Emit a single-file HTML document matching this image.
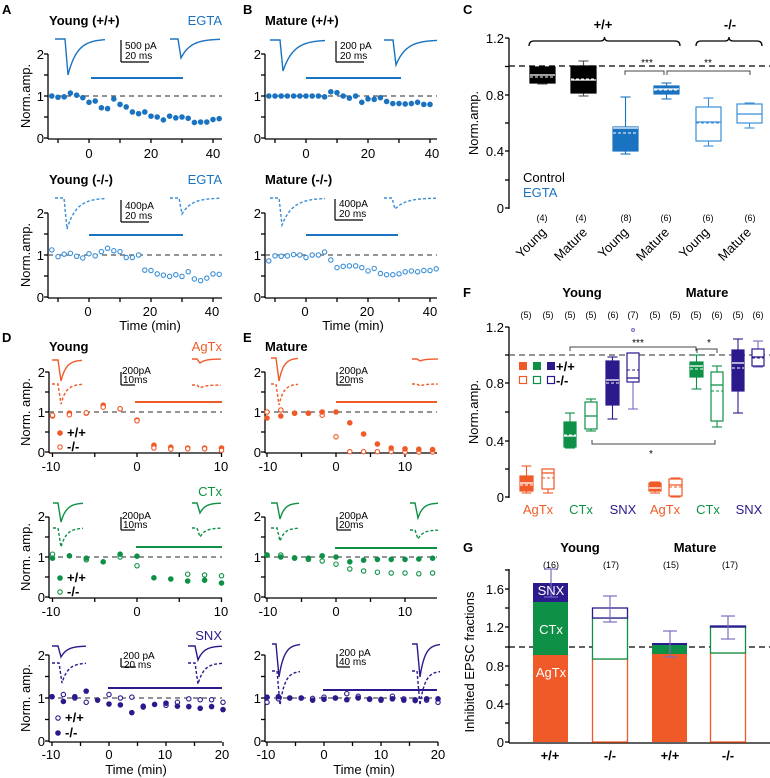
<!DOCTYPE html>
<html><head><meta charset="utf-8"><style>
body{margin:0;background:#fff}
svg{display:block;font-family:"Liberation Sans",Arial,sans-serif}
.b{font-weight:bold}
.t{font-size:13px}
.s{font-size:10px}
.n{font-size:9px}
</style></head><body>
<svg id="s" width="770" height="778" viewBox="0 0 770 778" xmlns="http://www.w3.org/2000/svg">
<g class="b" font-size="13">
<text x="2" y="14">A</text><text x="243" y="14">B</text><text x="463" y="14">C</text>
<text x="2" y="342">D</text><text x="243" y="342">E</text><text x="463" y="297">F</text><text x="463" y="552">G</text>
</g>
<g class="t">
<text x="49" y="25" class="b">Young (+/+)</text><text x="222" y="25" text-anchor="end" fill="#1a73c0">EGTA</text>
<text x="265" y="25" class="b">Mature (+/+)</text>
<text x="49" y="184" class="b">Young (-/-)</text><text x="222" y="184" text-anchor="end" fill="#1a73c0">EGTA</text>
<text x="265" y="184" class="b">Mature (-/-)</text>
<text x="49" y="351" class="b">Young</text><text x="222" y="351" text-anchor="end" fill="#f05a28">AgTx</text>
<text x="265" y="351" class="b">Mature</text>
<text x="222" y="496" text-anchor="end" fill="#0e9146">CTx</text>
<text x="222" y="640" text-anchor="end" fill="#2b1a8c">SNX</text>
</g>
<!-- axis tick labels -->
<g class="t" text-anchor="end">
<text x="44" y="59">2</text><text x="44" y="101">1</text><text x="44" y="143">0</text>
<text x="44" y="218">2</text><text x="44" y="260">1</text><text x="44" y="302">0</text>
<text x="261" y="59">2</text><text x="261" y="101">1</text><text x="261" y="143">0</text>
<text x="261" y="218">2</text><text x="261" y="260">1</text><text x="261" y="302">0</text>
<text x="45" y="377">2</text><text x="45" y="417">1</text><text x="45" y="457">0</text>
<text x="45" y="521">2</text><text x="45" y="562">1</text><text x="45" y="602">0</text>
<text x="45" y="660">2</text><text x="45" y="703">1</text><text x="45" y="746">0</text>
<text x="261" y="377">2</text><text x="261" y="417">1</text><text x="261" y="457">0</text>
<text x="261" y="521">2</text><text x="261" y="562">1</text><text x="261" y="602">0</text>
<text x="261" y="660">2</text><text x="261" y="703">1</text><text x="261" y="746">0</text>
<text x="504" y="43">1.2</text><text x="504" y="100">0.8</text><text x="504" y="156">0.4</text><text x="504" y="213">0</text>
<text x="504" y="332">1.2</text><text x="504" y="388">0.8</text><text x="504" y="446">0.4</text><text x="504" y="502">0</text>
<text x="504" y="594">1.6</text><text x="504" y="632">1.2</text><text x="504" y="671">0.8</text><text x="504" y="709">0.4</text><text x="504" y="747">0</text>
</g>
<g class="t" text-anchor="middle">
<text x="89" y="158">0</text><text x="151" y="158">20</text><text x="213" y="158">40</text>
<text x="306" y="158">0</text><text x="368" y="158">20</text><text x="432" y="158">40</text>
<text x="88" y="316">0</text><text x="150" y="316">20</text><text x="212" y="316">40</text>
<text x="305" y="316">0</text><text x="367" y="316">20</text><text x="430" y="316">40</text>
<text x="150" y="330">Time (min)</text><text x="353" y="330">Time (min)</text>
<text x="51" y="471">-10</text><text x="137" y="471">0</text><text x="221" y="471">10</text>
<text x="268" y="471">-10</text><text x="336" y="471">0</text><text x="405" y="471">10</text>
<text x="51" y="616">-10</text><text x="137" y="616">0</text><text x="221" y="616">10</text>
<text x="268" y="616">-10</text><text x="336" y="616">0</text><text x="405" y="616">10</text>
<text x="51" y="759">-10</text><text x="109" y="759">0</text><text x="165" y="759">10</text><text x="222" y="759">20</text>
<text x="266" y="759">-10</text><text x="324" y="759">0</text><text x="381" y="759">10</text><text x="438" y="759">20</text>
<text x="136" y="774">Time (min)</text><text x="364" y="774">Time (min)</text>
</g>
<g class="t" text-anchor="middle">
<text transform="translate(30,96) rotate(-90)">Norm.amp.</text>
<text transform="translate(30,255) rotate(-90)">Norm.amp.</text>
<text transform="translate(30,412) rotate(-90)">Norm. amp.</text>
<text transform="translate(30,557) rotate(-90)">Norm. amp.</text>
<text transform="translate(30,698) rotate(-90)">Norm. amp.</text>
<text transform="translate(478,123) rotate(-90)">Norm.amp.</text>
<text transform="translate(478,412) rotate(-90)">Norm.amp.</text>
<text transform="translate(474,662) rotate(-90)">Inhibited EPSC fractions</text>
</g>
<!-- scale bar texts -->
<g class="s">
<text x="125" y="49">500 pA</text><text x="125" y="59">20 ms</text>
<text x="340" y="49">200 pA</text><text x="340" y="59">20 ms</text>
<text x="125" y="209">400pA</text><text x="125" y="219">20 ms</text>
<text x="339" y="207">400pA</text><text x="339" y="217">20 ms</text>
<text x="122" y="374">200pA</text><text x="123" y="383">10ms</text>
<text x="339" y="374">200pA</text><text x="339" y="383">20ms</text>
<text x="122" y="519">200pA</text><text x="123" y="528">10ms</text>
<text x="339" y="519">200pA</text><text x="339" y="528">20ms</text>
<text x="123" y="659">200 pA</text><text x="124" y="668">20 ms</text>
<text x="339" y="656">200 pA</text><text x="339" y="665">40 ms</text>
</g>
<!-- legends in D -->
<g class="t b">
<text x="67" y="437">+/+</text><text x="67" y="451">-/-</text>
<text x="67" y="582">+/+</text><text x="67" y="596">-/-</text>
<text x="65" y="722">+/+</text><text x="65" y="737">-/-</text>
</g>
<!-- C texts -->
<g class="t b" text-anchor="middle"><text x="603" y="29">+/+</text><text x="730" y="29">-/-</text></g>
<text x="523" y="182" class="t">Control</text><text x="523" y="197" class="t" fill="#1a73c0">EGTA</text>
<g class="n" text-anchor="middle">
<text x="542" y="221">(4)</text><text x="581" y="221">(4)</text><text x="626" y="221">(8)</text><text x="666" y="221">(6)</text><text x="708" y="221">(6)</text><text x="750" y="221">(6)</text>
</g>
<g class="t" text-anchor="end">
<text transform="translate(547,233) rotate(-45)">Young</text><text transform="translate(588,233) rotate(-45)">Mature</text>
<text transform="translate(629,233) rotate(-45)">Young</text><text transform="translate(670,233) rotate(-45)">Mature</text>
<text transform="translate(710,233) rotate(-45)">Young</text><text transform="translate(752,233) rotate(-45)">Mature</text>
</g>
<g class="s" text-anchor="middle"><text x="647" y="66">***</text><text x="708" y="66">**</text></g>
<!-- F texts -->
<g class="t b" text-anchor="middle"><text x="582" y="297">Young</text><text x="707" y="297">Mature</text></g>
<g class="n" text-anchor="middle">
<text x="526" y="318">(5)</text><text x="548" y="318">(5)</text><text x="570" y="318">(5)</text><text x="591" y="318">(5)</text><text x="613" y="318">(6)</text><text x="633" y="318">(7)</text>
<text x="655" y="318">(5)</text><text x="675" y="318">(5)</text><text x="696" y="318">(5)</text><text x="717" y="318">(6)</text><text x="738" y="318">(5)</text><text x="758" y="318">(6)</text>
</g>
<g class="t" text-anchor="middle">
<text x="538" y="514" fill="#f05a28">AgTx</text><text x="581" y="514" fill="#0e9146">CTx</text><text x="623" y="514" fill="#2b1a8c">SNX</text>
<text x="665" y="514" fill="#f05a28">AgTx</text><text x="708" y="514" fill="#0e9146">CTx</text><text x="749" y="514" fill="#2b1a8c">SNX</text>
</g>
<g class="s" text-anchor="middle"><text x="638" y="346">***</text><text x="709" y="346">*</text><text x="651" y="457">*</text></g>
<g class="t b"><text x="556" y="371">+/+</text><text x="556" y="385">-/-</text></g>
<!-- G texts -->
<g class="t b" text-anchor="middle"><text x="580" y="552">Young</text><text x="695" y="552">Mature</text>
<text x="550" y="760">+/+</text><text x="610" y="760">-/-</text><text x="670" y="760">+/+</text><text x="728" y="760">-/-</text></g>
<g class="n" text-anchor="middle"><text x="551" y="568">(16)</text><text x="611" y="568">(17)</text><text x="671" y="568">(15)</text><text x="730" y="568">(17)</text></g>
<g id="dyn"></g>
<g class="t" fill="#fff" text-anchor="middle"><text x="551" y="595">SNX</text><text x="551" y="634">CTx</text><text x="551" y="677">AgTx</text></g>
</svg>
<script>
const NS="http://www.w3.org/2000/svg",G=document.getElementById("dyn");
function el(t,a){const e=document.createElementNS(NS,t);for(const k in a)e.setAttribute(k,a[k]);G.appendChild(e);return e;}
function line(x1,y1,x2,y2,c="#000",w=1.3,d){const a={x1,y1,x2,y2,stroke:c,"stroke-width":w};if(d)a["stroke-dasharray"]=d;return el("line",a);}
function rect(x,y,w,h,f,s,sw=1.2){return el("rect",{x,y,width:w,height:h,fill:f,stroke:s||"none","stroke-width":sw});}
function circ(x,y,c,fill,r=2.8){el("circle",{cx:x,cy:y,r:fill?r:r-0.6,fill:fill?c:"#fff",stroke:c,"stroke-width":fill?0:1.1});}
// axes: x axis at y0 from xa to xb, ticks
function axes(ax,yTop,y0,xb,yt,xt){line(ax,yTop,ax,y0+1);line(ax,y0+1,xb,y0+1);yt.forEach(y=>line(ax-4,y,ax,y));xt.forEach(x=>line(x,y0+1,x,y0+5));}
function rng(a,b,s){const r=[];for(let v=a;v<=b+1e-9;v+=s)r.push(v);return r;}
// time panel
function tp(o){const {ax,x0,ppm,y0,ppu,xb,tmin,tmax,step,dash0}=o;
 const yt=[0,0.5,1,1.5,2].map(v=>y0-v*ppu);
 axes(ax,y0-2*ppu,y0,xb,yt,rng(tmin,tmax,step).map(t=>x0+t*ppm));
 line(ax,y0-ppu,xb,y0-ppu,"#555",1.2,"5,4");}
function dots(o,ts,vals,c,f){ts.forEach((t,i)=>{if(vals[i]!=null)circ(o.x0+t*o.ppm,o.y0-vals[i]*o.ppu,c,f);});}
function trace(x1,x2,yb,xd,yd,c,dash){const tau=(x2-xd)/4;let d=`M${x1},${yb} L${xd-3},${yb} L${xd},${yd}`;
 for(let x=xd;x<=x2;x+=1){d+=` L${x},${yb+(yd-yb)*Math.exp(-(x-xd)/tau)}`;}
 const a={d,fill:"none",stroke:c,"stroke-width":1.4};if(dash)a["stroke-dasharray"]="3,2";el("path",a);}
function sb(x,y1,y2,x2){line(x,y1,x,y2,"#000",1.2);line(x,y2,x2,y2,"#000",1.2);}
const BL="#1a73c0",LB="#3a8fd8",OR="#f05a28",GR="#0e9146",NV="#2b1a8c";
// A/B
const A1={ax:48,x0:89,ppm:3.1,y0:138,ppu:42,xb:222,tmin:-10,tmax:40,step:10};
const A2={...A1,y0:297};const B1={ax:265,x0:306,ppm:3.1,y0:138,ppu:42,xb:437,tmin:-10,tmax:40,step:10};const B2={...B1,y0:297};
[A1,A2,B1,B2].forEach(tp);
const tA=rng(-12,42,2),tB=rng(-12,40,2);
dots(A1,tA,[1,.97,.98,1.07,1.02,.96,.85,.88,.72,.7,.93,.8,.74,.62,.58,.62,.52,.5,.43,.52,.48,.5,.47,.37,.38,.38,.44,.46],BL,1);
dots(A2,tA,[1.12,.96,1.02,1.04,.97,.93,1.03,.98,1.08,1.16,1.1,1.08,.94,.94,1,.64,.63,.55,.52,.49,.53,.49,.6,.43,.39,.45,.55,.54],LB,0);
dots(B1,tB,[1,1,1,1,1,1,1,1,1,.98,1.1,1.08,1,.95,1,.85,.93,.92,.96,.87,.82,.82,.81,.82,.85,.8,.8],BL,1);
dots(B2,tA,[.86,.98,.97,.98,1.01,1,.94,1,1,1.07,.88,.7,.73,.74,.74,.7,.62,.68,.56,.53,.53,.55,.6,.62,.6,.63,.63,.67],LB,0);
line(91,78,183,78,BL,2);line(89,235,183,235,BL,2);line(306,78,401,78,BL,2);line(306,235,398,235,BL,2);
trace(55,105,39,68,75,BL);trace(170,220,39,181,58,BL);sb(121,40,62,149);
trace(55,105,198,67,229,LB,1);trace(170,220,198,182,214,LB,1);sb(121,200,222,149);
trace(270,325,40,283,71,BL);trace(384,437,40,396,65,BL);sb(336,41,62,364);
trace(270,325,198,282,225,LB,1);trace(384,437,198,395,209,LB,1);sb(335,199,220,363);
// D/E
const D1={ax:49,x0:137,ppm:8.45,y0:452,ppu:40,xb:222,tmin:-10,tmax:10,step:5};
const D2={...D1,y0:597};const D3={ax:49,x0:109,ppm:5.7,y0:741,ppu:43,xb:222,tmin:-10,tmax:20,step:5};
const E1={ax:265,x0:336,ppm:6.9,y0:452,ppu:40,xb:437,tmin:-10,tmax:14,step:5};const E2={...E1,y0:597};
const E3={ax:265,x0:324,ppm:5.7,y0:741,ppu:43,xb:438,tmin:-10,tmax:20,step:5};
[D1,D2,D3,E1,E2,E3].forEach(tp);
const t10=rng(-10,10,2),t14=rng(-10,14,2),t20=rng(-10,20,2);
dots(D1,t10,[.9,.97,.97,1.17,1.08,.8,.17,.12,.1,.1,.1],OR,1);
dots(D1,t10,[.92,.93,.98,1.12,1.08,.78,.1,.07,.08,.08,.04],OR,0);
dots(E1,t14,[1,1.05,.97,.97,.92,.38,.01,.01,.01,.01,0,0,0],OR,0);
dots(E1,t14,[.85,.9,.97,.97,1,1,.73,.45,.2,.1,.08,.07,.06],OR,1);
dots(D2,t10,[1.07,null,.93,null,1,.78,null,null,.57,.55,.53],GR,0);
dots(D2,t10,[.97,1.03,.97,.88,1.07,1.02,.48,.45,.4,.42,.35],GR,1);
dots(E2,t14,[1.05,1.05,.98,.94,.9,.82,.7,.65,.62,.6,.6,.58,.6],GR,0);
dots(E2,t14,[1.05,1,.97,.97,1.03,1,.88,.92,.94,.94,.94,.95,.97],GR,1);
dots(D3,t20,[1.03,1.08,1,.9,null,1.08,1,1.02,.81,null,.83,.9,.98,.96,.96,.9],NV,0);
dots(D3,t20,[1.03,.92,1.03,1.16,.95,.86,.84,.66,.79,.85,.88,.81,.8,.76,.8,.73],NV,1);
dots(E3,t20,[.9,.98,1,1,.99,1.02,1,1.1,1.04,.98,.97,1.04,.98,.96,.95,.9],NV,0);
dots(E3,t20,[1.02,1.03,1,1,.95,.97,1,.96,1,.97,.95,.98,.95,.94,.98,.98],NV,1);
line(135,402,222,402,OR,2);line(336,402,437,402,OR,2);line(136,547,222,547,GR,2);line(335,548,437,548,GR,2);
line(108,688,222,688,NV,2);line(323,690,437,690,NV,2);
trace(52,82,360,61,381,OR);trace(52,82,384,61,404,OR,1);trace(192,221,359,200,363,OR);trace(192,221,385,200,388,OR,1);sb(121,372,385,135);
trace(271,298,358,279,381,OR);trace(271,298,384,279,405,OR,1);trace(412,438,359,420,361,OR);trace(412,438,384,420,386,OR,1);sb(337,372,385,351);
trace(53,83,503,61,522,GR);trace(53,83,528,61,547,GR,1);trace(192,221,503,200,513,GR);trace(192,221,528,200,537,GR,1);sb(121,517,530,135);
trace(271,299,503,280,519,GR);trace(271,299,528,280,541,GR,1);trace(410,438,503,418,518,GR);trace(410,438,530,418,539,GR,1);sb(337,517,530,351);
trace(52,86,646,61,657,NV);trace(52,86,663,62,683,NV,1);trace(188,222,646,198,660,NV);trace(188,222,663,198,684,NV,1);sb(121,658,667,136);
trace(272,300,644,279,677,NV);trace(272,300,671,280,705,NV,1);trace(412,440,644,420,677,NV);trace(412,440,671,420,705,NV,1);sb(337,654,667,350);
// legend dots D
circ(60,433,OR,1);circ(60,447,OR,0);circ(60,578,GR,1);circ(60,592,GR,0);circ(58,718,NV,0);circ(58,733,NV,1);
// C
axes(509,38,208,509,[38,66.5,95,123,151,180,208],[]);
line(509,66,770,66,"#000",1.2,"6,4");
function box(x,w,q1,q3,lo,hi,med,mean,c,fill,wc){const m=x+w/2;wc=wc||c;
 line(m,hi,m,q1,wc,1.1);line(m,q3,m,lo,wc,1.1);line(m-5,hi,m+5,hi,wc,1.1);line(m-5,lo,m+5,lo,wc,1.1);
 rect(x,q1,w,q3-q1,fill?c:"#fff",c,1.2);
 line(x,med,x+w,med,fill?"#fff":c,1.3);line(x,mean,x+w,mean,fill?"#fff":c,1,"3,2");}
box(530,25,67,83,67,84,75,77,"#000",1,"#555");box(571,25,66,93,61,96,80,79,"#000",1,"#555");
box(613,25,127,151,97,154,128,133,BL,1);box(654,25,86,94,83,99,89,90,BL,1);
box(696,25,107,141,98,146,122,123,LB,0);box(737,25,104,123,103,128,114,114,LB,0);
function brace(x1,x2,y){const m=(x1+x2)/2;el("path",{d:`M${x1},${y+5} Q${x1},${y} ${x1+5},${y} L${m-4},${y} Q${m},${y} ${m},${y-4} Q${m},${y} ${m+4},${y} L${x2-5},${y} Q${x2},${y} ${x2},${y+5}`,fill:"none",stroke:"#000","stroke-width":1.3});}
brace(529,680,41);brace(696,762,41);
function bk(x1,x2,y,up){const d=up?-4:4;el("path",{d:`M${x1},${y+d} L${x1},${y} L${x2},${y} L${x2},${y+d}`,fill:"none",stroke:"#444","stroke-width":1});}
bk(625,664,71);bk(667,750,71);
// F
axes(509,327,497,509,[327,355,383,412,441,469,497],[]);
line(509,355,770,355,"#555",1.2,"6,4");
box(520,13,476,491,466,493,483,485,OR,1);box(542,12,469,489,469,493,473,478,OR,0);
box(564,12,422,447,413,448,436,435,GR,1);box(585,12,402,429,399,431,416,416,GR,0);
box(606,13,361,405,357,419,380,383,NV,1);box(627,12,353,382,353,409,378,370,NV,0,"#7a6cc0");
circ(633,330,"#7a6cc0",0,2);
box(649,12,483,491,482,493,488,488,OR,1);box(669,13,479,496,478,497,485,487,OR,0);
box(690,13,362,377,355,389,366,369,GR,1);box(711,12,372,421,366,427,385,391,GR,0);
box(732,12,350,391,339,413,363,368,NV,1);box(752,12,349,366,341,367,357,358,NV,0,"#7a6cc0");
bk(570,696,347);bk(697,717,349);bk(592,715,444,1);
[[OR,520],[GR,534],[NV,548]].forEach(([c,x])=>{rect(x-1,362,8,8,c);rect(x-0.5,376.5,7,7,"#fff",c,1.2);});
// G
axes(509,569,742,770,[742,723,704,685,666,647,627,608,589,570],[]);
line(509,647,770,647,"#000",1.2,"6,4");
rect(533,655,35,87,OR);rect(533,602,35,53,GR);rect(533,583,35,19,NV);
rect(592.5,659,35,83,"#fff",OR,1.3);rect(592.5,618,35,41,"#fff",GR,1.3);rect(592.5,608,35,10,"#fff",NV,1.3);
rect(652,654,35,88,OR);rect(652,645,35,9,GR);rect(652,643,35,2,NV);
rect(710.5,653,35,89,"#fff",OR,1.3);rect(710.5,627,35,26,"#fff",GR,1.3);rect(710.5,626,35,1,"#fff",NV,1.3);
function eb(x,y1,y2,c){line(x,y1,x,y2,c,1.2);line(x-7,y1,x+7,y1,c,1.2);line(x-7,y2,x+7,y2,c,1.2);}
eb(551,569,597,"#7a6cc0");eb(610,596,622,"#7a6cc0");eb(670,631,657,"#7a6cc0");eb(728,616,639,"#7a6cc0");
</script>
</body></html>
